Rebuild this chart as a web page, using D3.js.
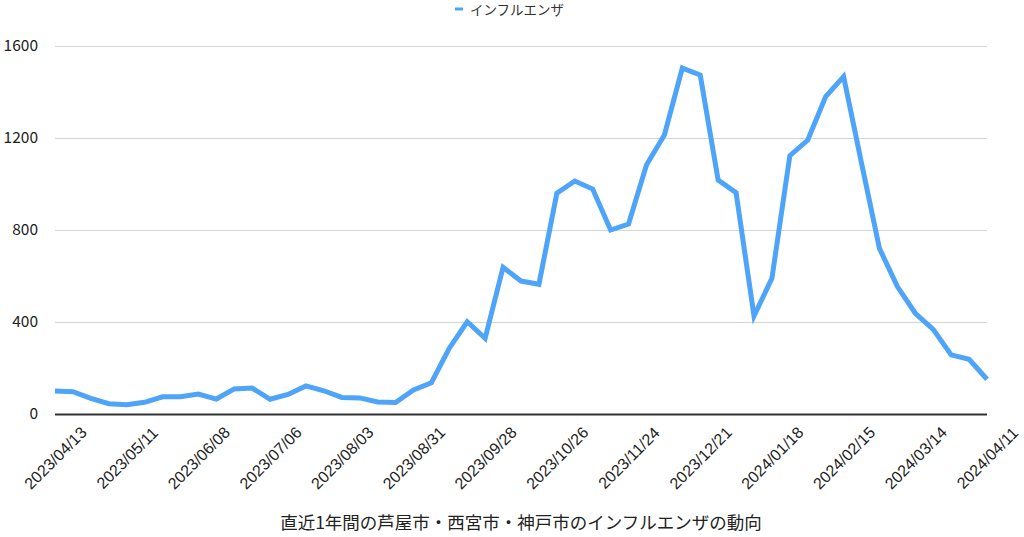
<!DOCTYPE html>
<html>
<head>
<meta charset="utf-8">
<script src="https://cdn.jsdelivr.net/npm/d3@7.9.0/dist/d3.min.js"></script>
<style>
  body { margin: 0; background: #fff; }
  svg { display: block; font-family: "Noto Sans CJK JP", "Noto Sans", sans-serif; }
</style>
</head>
<body>
<div id="chart"></div>
<script>
// weekly report dates
const dates = [
  '2023/04/13','2023/04/20','2023/04/27','2023/05/04','2023/05/11','2023/05/18','2023/05/25',
  '2023/06/01','2023/06/08','2023/06/15','2023/06/22','2023/06/29','2023/07/06','2023/07/13',
  '2023/07/20','2023/07/27','2023/08/03','2023/08/10','2023/08/17','2023/08/24','2023/08/31',
  '2023/09/07','2023/09/14','2023/09/21','2023/09/28','2023/10/05','2023/10/12','2023/10/19',
  '2023/10/26','2023/11/02','2023/11/09','2023/11/16','2023/11/24','2023/11/30','2023/12/07',
  '2023/12/14','2023/12/21','2023/12/28','2024/01/04','2024/01/11','2024/01/18','2024/01/25',
  '2024/02/01','2024/02/08','2024/02/15','2024/02/22','2024/02/29','2024/03/07','2024/03/14',
  '2024/03/21','2024/03/28','2024/04/04','2024/04/11'
];
const influenza = [
  100, 97, 68, 45, 40, 51, 75, 75, 87, 65, 109, 113, 64, 85, 122, 101, 72, 70, 52, 50,
  105, 136, 286, 401, 329, 638, 578, 564, 960, 1013, 978, 800, 826, 1083, 1213, 1504,
  1474, 1017, 962, 426, 590, 1123, 1191, 1380, 1467, 1090, 720, 554, 438, 368, 257, 238, 151
];
const yTicks = [0, 400, 800, 1200, 1600];
const seriesName = 'インフルエンザ';
const title = '直近1年間の芦屋市・西宮市・神戸市のインフルエンザの動向';

const width = 1024, height = 537;
const margin = {top: 46, right: 37, bottom: 123, left: 55};
const blue = '#4da4f8';

const svg = d3.select('#chart').append('svg')
  .attr('width', width).attr('height', height);

const x = d3.scalePoint()
  .domain(dates)
  .range([margin.left, width - margin.right]);
const y = d3.scaleLinear()
  .domain([0, 1600])
  .range([height - margin.bottom, margin.top]);

// grid
const yAxis = svg.append('g')
  .attr('transform', `translate(${margin.left},0)`)
  .call(d3.axisLeft(y).tickValues(yTicks)
    .tickFormat(d3.format('d'))
    .tickSize(-(width - margin.left - margin.right))
    .tickPadding(17));
yAxis.select('.domain').remove();
yAxis.selectAll('line')
  .attr('stroke', d => d === 0 ? '#333' : '#d4d4d4')
  .attr('stroke-width', d => d === 0 ? 2 : 1);
yAxis.selectAll('text')
  .attr('font-size', 15.5)
  .attr('fill', '#222')
  .attr('font-family', '"Noto Sans CJK JP", sans-serif');

// x labels, every 4th week
const xAxis = svg.append('g')
  .attr('transform', `translate(0,${height - margin.bottom})`)
  .call(d3.axisBottom(x)
    .tickValues(dates.filter((d, i) => i % 4 === 0))
    .tickSize(0));
xAxis.select('.domain').remove();
xAxis.selectAll('text')
  .attr('font-size', 16)
  .attr('fill', '#222')
  .attr('text-anchor', 'middle')
  .attr('dy', null)
  .attr('y', 44)
  .attr('dominant-baseline', 'central')
  .attr('transform', 'rotate(-45 0 44)');

// line
svg.append('path')
  .datum(influenza)
  .attr('fill', 'none')
  .attr('stroke', blue)
  .attr('stroke-width', 5)
  .attr('stroke-linejoin', 'miter')
  .attr('d', d3.line()
    .x((d, i) => x(dates[i]))
    .y(d => y(d)));

// legend
const legend = svg.append('g').attr('transform', 'translate(455,9)');
legend.append('line')
  .attr('x1', 0).attr('x2', 8)
  .attr('stroke', blue).attr('stroke-width', 3);
legend.append('text')
  .attr('x', 15).attr('y', 0)
  .attr('dominant-baseline', 'central')
  .attr('font-size', 13.5)
  .attr('fill', '#333')
  .text(seriesName);

// title
svg.append('text')
  .attr('x', (margin.left + width - margin.right) / 2)
  .attr('y', 521)
  .attr('text-anchor', 'middle')
  .attr('dominant-baseline', 'central')
  .attr('font-size', 17.5)
  .attr('fill', '#222')
  .text(title);
</script>
</body>
</html>
